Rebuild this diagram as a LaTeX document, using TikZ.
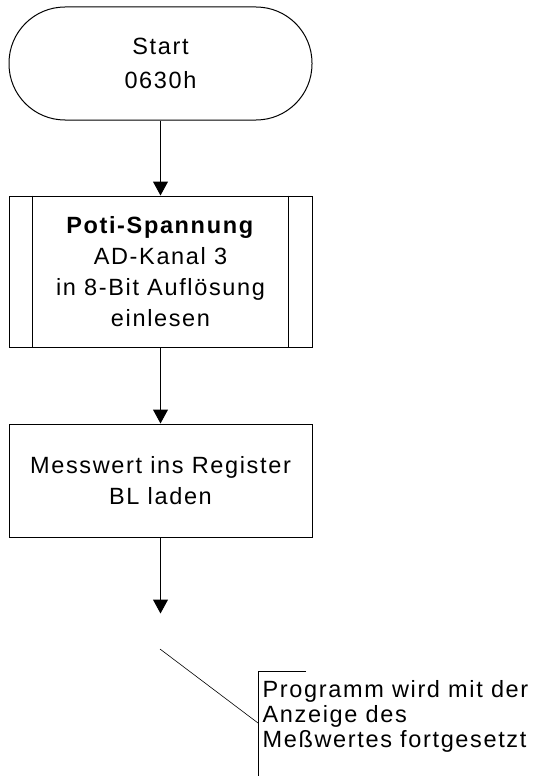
\documentclass[tikz,border=0pt]{standalone}
\usepackage{fontspec}
\setmainfont{Liberation Sans}[LetterSpace=7]
\usetikzlibrary{arrows.meta,positioning}
\tikzset{
    basic/.style    = {draw, rectangle, line width=1pt, align=center, font=\fontsize{23.5}{31}\selectfont},
    terminal/.style = {basic, rounded corners=56pt, minimum width=303pt, minimum height=113pt, font=\fontsize{23.5}{34}\selectfont},
    subproc/.style  = {basic, minimum width=303pt, minimum height=151pt},
    proc/.style     = {basic, minimum width=303pt, minimum height=113pt},
    flow/.style     = {line width=1pt, -{Triangle[width=15pt,length=14pt]}},
    note/.style     = {align=left, inner sep=0pt, font=\fontsize{23.5}{25}\selectfont}
}
\begin{document}
\begin{tikzpicture}[x=1pt,y=-1pt]
	\useasboundingbox (0,0) rectangle (546,776);
	% Ablauf
	\node[terminal] (start) at (160.5,63.5) {Start\\0630h};
	\node[subproc, below=75pt of start] (poti) {\textbf{Poti-Spannung}\\AD-Kanal 3\\in 8-Bit Auflösung\\einlesen};
	\draw[line width=1pt] ([xshift=24pt]poti.north west) -- ([xshift=24pt]poti.south west)
		([xshift=-24pt]poti.north east) -- ([xshift=-24pt]poti.south east);
	\node[proc, below=76pt of poti] (laden) {Messwert ins Register\\BL laden};
	\coordinate[below=76pt of laden] (weiter);
	\draw[flow] (start) -- (poti);
	\draw[flow] (poti) -- (laden);
	\draw[flow] (laden) -- (weiter);
	% Kommentar
	\coordinate (zeiger) at (160,649);
	\coordinate (klammer) at (258,723);
	\coordinate (klammer oben) at (258,671);
	\draw[line width=0.6pt] (zeiger) -- (klammer);
	\draw[line width=0.8pt] ([xshift=48pt]klammer oben) -- (klammer oben) -- (258,776);
	\node[note, anchor=north west] (hinweis) at (262.5,680) {Programm wird mit der\\Anzeige des\\Meßwertes fortgesetzt};
\end{tikzpicture}
\end{document}
